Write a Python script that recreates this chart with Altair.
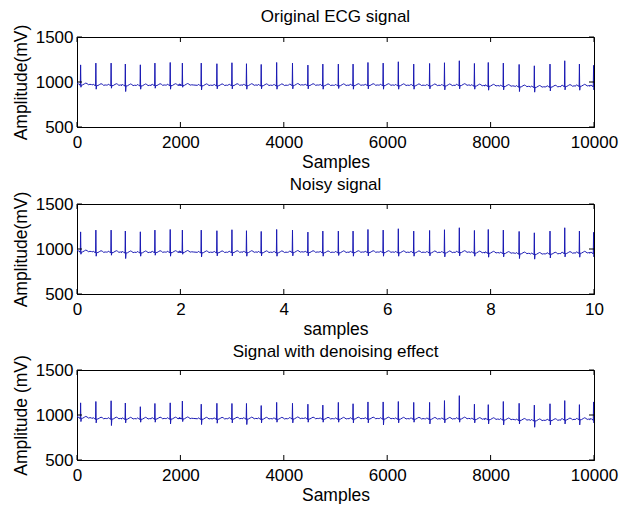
import altair as alt
import pandas as pd

# ---- values ----
beat_samples = [70, 365, 660, 935, 1225, 1507, 1803, 2038, 2403, 2706, 2997, 3278,
                3563, 3862, 4168, 4466, 4755, 5055, 5340, 5628, 5922, 6215, 6513,
                6820, 7108, 7395, 7687, 7955, 8246, 8552, 8846, 9149, 9434, 9718, 9992]

orig_r = [1190, 1210, 1210, 1200, 1191, 1210, 1217, 1210, 1210, 1203, 1214, 1203,
          1195, 1217, 1210, 1188, 1199, 1199, 1199, 1217, 1210, 1225, 1199, 1206,
          1214, 1236, 1206, 1217, 1210, 1195, 1180, 1199, 1236, 1199, 1185]
orig_s = [942, 920, 931, 894, 920, 931, 920, 942, 913, 924, 924, 920, 924, 920,
          924, 924, 920, 928, 920, 924, 920, 920, 920, 924, 913, 924, 920, 909,
          913, 894, 887, 901, 913, 909, 913]
orig_base = [972, 965, 965, 962, 962, 965, 965, 967, 963, 963, 965, 965, 963, 963,
             967, 965, 963, 963, 965, 965, 965, 963, 963, 962, 962, 965, 960, 958,
             955, 950, 945, 948, 955, 958, 955]

den_r = [1135, 1150, 1158, 1133, 1092, 1128, 1135, 1155, 1120, 1130, 1128, 1128,
         1105, 1140, 1130, 1120, 1110, 1140, 1125, 1145, 1145, 1150, 1140, 1140,
         1160, 1215, 1120, 1115, 1150, 1130, 1110, 1125, 1160, 1115, 1145]
den_s = [927, 913, 883, 913, 920, 920, 901, 927, 894, 909, 913, 894, 913, 920,
         913, 920, 920, 920, 913, 913, 890, 913, 920, 901, 913, 920, 913, 901,
         890, 901, 864, 890, 901, 890, 913]
den_base = [968, 960, 960, 958, 958, 960, 960, 962, 958, 958, 960, 960, 958, 958,
            962, 960, 958, 958, 960, 960, 960, 958, 958, 957, 957, 960, 955, 953,
            950, 945, 940, 943, 950, 953, 950]

# waveform outline around each R peak: sample offset and level above the baseline
pre_dx = [-75, -58, -45, -32, -12, -6]
pre_dy = [0, 8, 10, 0, -2, -10]
post_dx = [14, 40, 75, 100, 125, 150, 180, 210]
post_dy = [-6, -4, 8, 16, 10, -2, 2, 0]

start_value = 995
x_ticks_samples = [0, 2000, 4000, 6000, 8000, 10000]
x_ticks_seconds = [0, 2, 4, 6, 8, 10]
y_ticks = [500, 1000, 1500]

W, H = 517, 90
LINE = "#1a1ab4"
FONT = "Liberation Sans"


def build(r_vals, s_vals, base_vals, xscale):
    xs, ys = [0.0], [start_value]
    for b, r, s, base in zip(beat_samples, r_vals, s_vals, base_vals):
        for dx, dy in zip(pre_dx, pre_dy):
            xs.append(b + dx); ys.append(base + dy)
        xs.append(b); ys.append(r)
        xs.append(b + 6); ys.append(s)
        for dx, dy in zip(post_dx, post_dy):
            xs.append(b + dx); ys.append(base + dy)
    df = pd.DataFrame({"x": xs, "y": ys})
    df = df[df.x >= 0].reset_index(drop=True)
    df["x"] = df["x"] * xscale
    df["order"] = range(len(df))
    return df


def panel(df, title, xtitle, ytitle, xmax, xticks, toff):
    xs = alt.Scale(domain=[0, xmax], nice=False, zero=False)
    ys = alt.Scale(domain=[500, 1500], nice=False, zero=False)
    xaxis = alt.Axis(values=xticks, title=xtitle, format="d", labelPadding=7,
                     titlePadding=3, labelFlush=False)
    yaxis = alt.Axis(values=y_ticks, title=ytitle, format="d", labelPadding=4, titlePadding=5)
    line = alt.Chart(df).mark_line(color=LINE, strokeWidth=1, clip=True).encode(
        x=alt.X("x:Q", scale=xs, axis=xaxis),
        y=alt.Y("y:Q", scale=ys, axis=yaxis),
        order="order:Q",
    )
    tdf = pd.DataFrame({"x": xticks})
    ydf = pd.DataFrame({"y": y_ticks})
    xb = alt.Chart(tdf).mark_rule(color="black").encode(
        x=alt.X("x:Q", scale=xs, axis=xaxis), y=alt.value(H), y2=alt.value(H - 5))
    xt = alt.Chart(tdf).mark_rule(color="black").encode(
        x=alt.X("x:Q", scale=xs, axis=xaxis), y=alt.value(0), y2=alt.value(5))
    yl = alt.Chart(ydf).mark_rule(color="black").encode(
        y=alt.Y("y:Q", scale=ys, axis=yaxis), x=alt.value(0), x2=alt.value(5))
    yr = alt.Chart(ydf).mark_rule(color="black").encode(
        y=alt.Y("y:Q", scale=ys, axis=yaxis), x=alt.value(W), x2=alt.value(W - 5))
    return alt.layer(line, xb, xt, yl, yr).properties(
        width=W, height=H,
        title=alt.TitleParams(title, fontSize=17, font=FONT, fontWeight="normal",
                              offset=toff, color="black", frame="group"),
    )


orig_df = build(orig_r, orig_s, orig_base, 1.0)
noisy_df = build(orig_r, orig_s, orig_base, 0.001)
den_df = build(den_r, den_s, den_base, 1.0)

top_pair = alt.vconcat(
    panel(orig_df, "Original ECG signal", "Samples", "Amplitude(mV)", 10000, x_ticks_samples, -2),
    panel(noisy_df, "Noisy signal", "samples", "Amplitude(mV)", 10, x_ticks_seconds, -3),
    spacing=4,
)
chart = alt.vconcat(
    top_pair,
    panel(den_df, "Signal with denoising effect", "Samples", "Amplitude (mV)", 10000,
          x_ticks_samples, -6),
    spacing=4,
).properties(
    padding={"left": 11, "top": 7, "right": 5, "bottom": 0},
    background="white",
).configure_view(
    stroke="black", strokeWidth=1,
).configure_axis(
    labelFont=FONT, labelFontSize=17, labelColor="black",
    titleFont=FONT, titleFontSize=17.5, titleFontWeight="normal", titleColor="black",
    domainColor="black", ticks=False, grid=False,
).configure_title(anchor="middle")

chart.save("out.html", embed_options={"renderer": "svg", "actions": False})
